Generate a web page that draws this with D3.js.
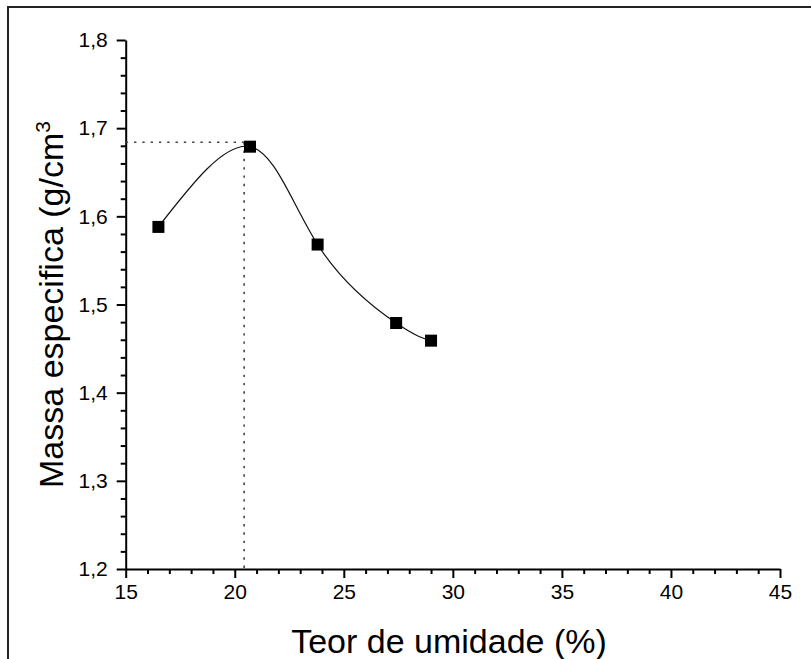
<!DOCTYPE html>
<html>
<head>
<meta charset="utf-8">
<script src="https://cdn.jsdelivr.net/npm/d3@7"></script>
<style>
  html, body { margin: 0; padding: 0; background: #fff; }
  svg { display: block; }
  text { font-family: "Liberation Sans", Arial, sans-serif; fill: #000; }
</style>
</head>
<body>
<svg id="chart" width="811" height="659"></svg>
<script>
// Compaction curve: moisture content (%) vs specific mass (g/cm³)
const moisture = [16.5, 20.7, 23.8, 27.4, 29.0];
const density  = [1.588, 1.679, 1.568, 1.479, 1.459];

// Optimum moisture / maximum density read-out lines
const optMoisture = 20.43;
const maxDensity  = 1.684;

const xTicks = [15, 20, 25, 30, 35, 40, 45];
const yTicks = [1.2, 1.3, 1.4, 1.5, 1.6, 1.7, 1.8];

const svg = d3.select("#chart");
const W = 811, H = 659;
const plotLeft = 125.7, plotRight = 780, plotTop = 40, plotBottom = 569;

const x = d3.scaleLinear().domain([15, 45]).range([plotLeft, plotRight]);
const y = d3.scaleLinear().domain([1.2, 1.8]).range([plotBottom, plotTop]);

// outer frame (top and left edges visible)
svg.append("path")
  .attr("d", `M8,${H} L8,7 L${W},7`)
  .attr("fill", "none")
  .attr("stroke", "#222")
  .attr("stroke-width", 2);

const fmt = d => d3.format(".1f")(d).replace(".", ",");

// minor ticks
const xMinor = d3.range(15, 45.001, 1).filter(v => v % 5 !== 0);
const yMinor = d3.range(0, 31).map(i => 1.2 + i * 0.02).filter((v, i) => i % 5 !== 0);

svg.append("g")
  .attr("transform", `translate(0,${plotBottom})`)
  .call(d3.axisBottom(x).tickValues(xMinor).tickSize(5).tickSizeOuter(0).tickFormat(""))
  .call(g => g.select(".domain").remove())
  .call(g => g.selectAll("line").attr("stroke", "#000").attr("stroke-width", 2));

svg.append("g")
  .attr("transform", `translate(${plotLeft},0)`)
  .call(d3.axisLeft(y).tickValues(yMinor).tickSize(5).tickSizeOuter(0).tickFormat(""))
  .call(g => g.select(".domain").remove())
  .call(g => g.selectAll("line").attr("stroke", "#000").attr("stroke-width", 2));

// major axes
const xAxis = svg.append("g")
  .attr("transform", `translate(0,${plotBottom})`)
  .call(d3.axisBottom(x).tickValues(xTicks).tickSize(9).tickSizeOuter(0).tickPadding(6).tickFormat(d3.format("d")));
const yAxis = svg.append("g")
  .attr("transform", `translate(${plotLeft},0)`)
  .call(d3.axisLeft(y).tickValues(yTicks).tickSize(9).tickSizeOuter(0).tickPadding(9).tickFormat(fmt));

[xAxis, yAxis].forEach(g => {
  g.select(".domain").attr("stroke", "#000").attr("stroke-width", 2);
  g.selectAll(".tick line").attr("stroke", "#000").attr("stroke-width", 2);
  g.selectAll(".tick text")
    .attr("font-size", 21)
    .attr("font-family", "'Liberation Sans', Arial, sans-serif")
    .attr("fill", "#000");
});
xAxis.selectAll(".tick text").attr("dy", "0.71em").attr("y", 15);

// dotted read-out lines
svg.append("line")
  .attr("x1", plotLeft).attr("x2", x(optMoisture))
  .attr("y1", y(maxDensity)).attr("y2", y(maxDensity))
  .attr("stroke", "#444").attr("stroke-width", 1.6)
  .attr("stroke-dasharray", "2.4,5.9");
svg.append("line")
  .attr("x1", x(optMoisture)).attr("x2", x(optMoisture))
  .attr("y1", y(maxDensity)).attr("y2", plotBottom)
  .attr("stroke", "#444").attr("stroke-width", 1.6)
  .attr("stroke-dasharray", "2.4,5.9");

// spline through the points
const pts = moisture.map((m, i) => [m, density[i]]);
svg.append("path")
  .datum(pts)
  .attr("fill", "none")
  .attr("stroke", "#111")
  .attr("stroke-width", 1.2)
  .attr("d", d3.line().x(d => x(d[0])).y(d => y(d[1])).curve(d3.curveNatural));

// square markers
const s = 12;
svg.append("g").selectAll("rect")
  .data(pts)
  .join("rect")
  .attr("x", d => x(d[0]) - s / 2)
  .attr("y", d => y(d[1]) - s / 2)
  .attr("width", s).attr("height", s)
  .attr("fill", "#000");

// axis titles
svg.append("text")
  .attr("x", 449).attr("y", 653)
  .attr("text-anchor", "middle")
  .attr("font-size", 34)
  .text("Teor de umidade (%)");

const yt = svg.append("text")
  .attr("transform", `translate(63,${(plotTop + plotBottom) / 2}) rotate(-90)`)
  .attr("text-anchor", "middle")
  .attr("font-size", 34);
yt.append("tspan").text("Massa especifica (g/cm");
yt.append("tspan").attr("font-size", 21).attr("dy", -13).text("3");
</script>
</body>
</html>
